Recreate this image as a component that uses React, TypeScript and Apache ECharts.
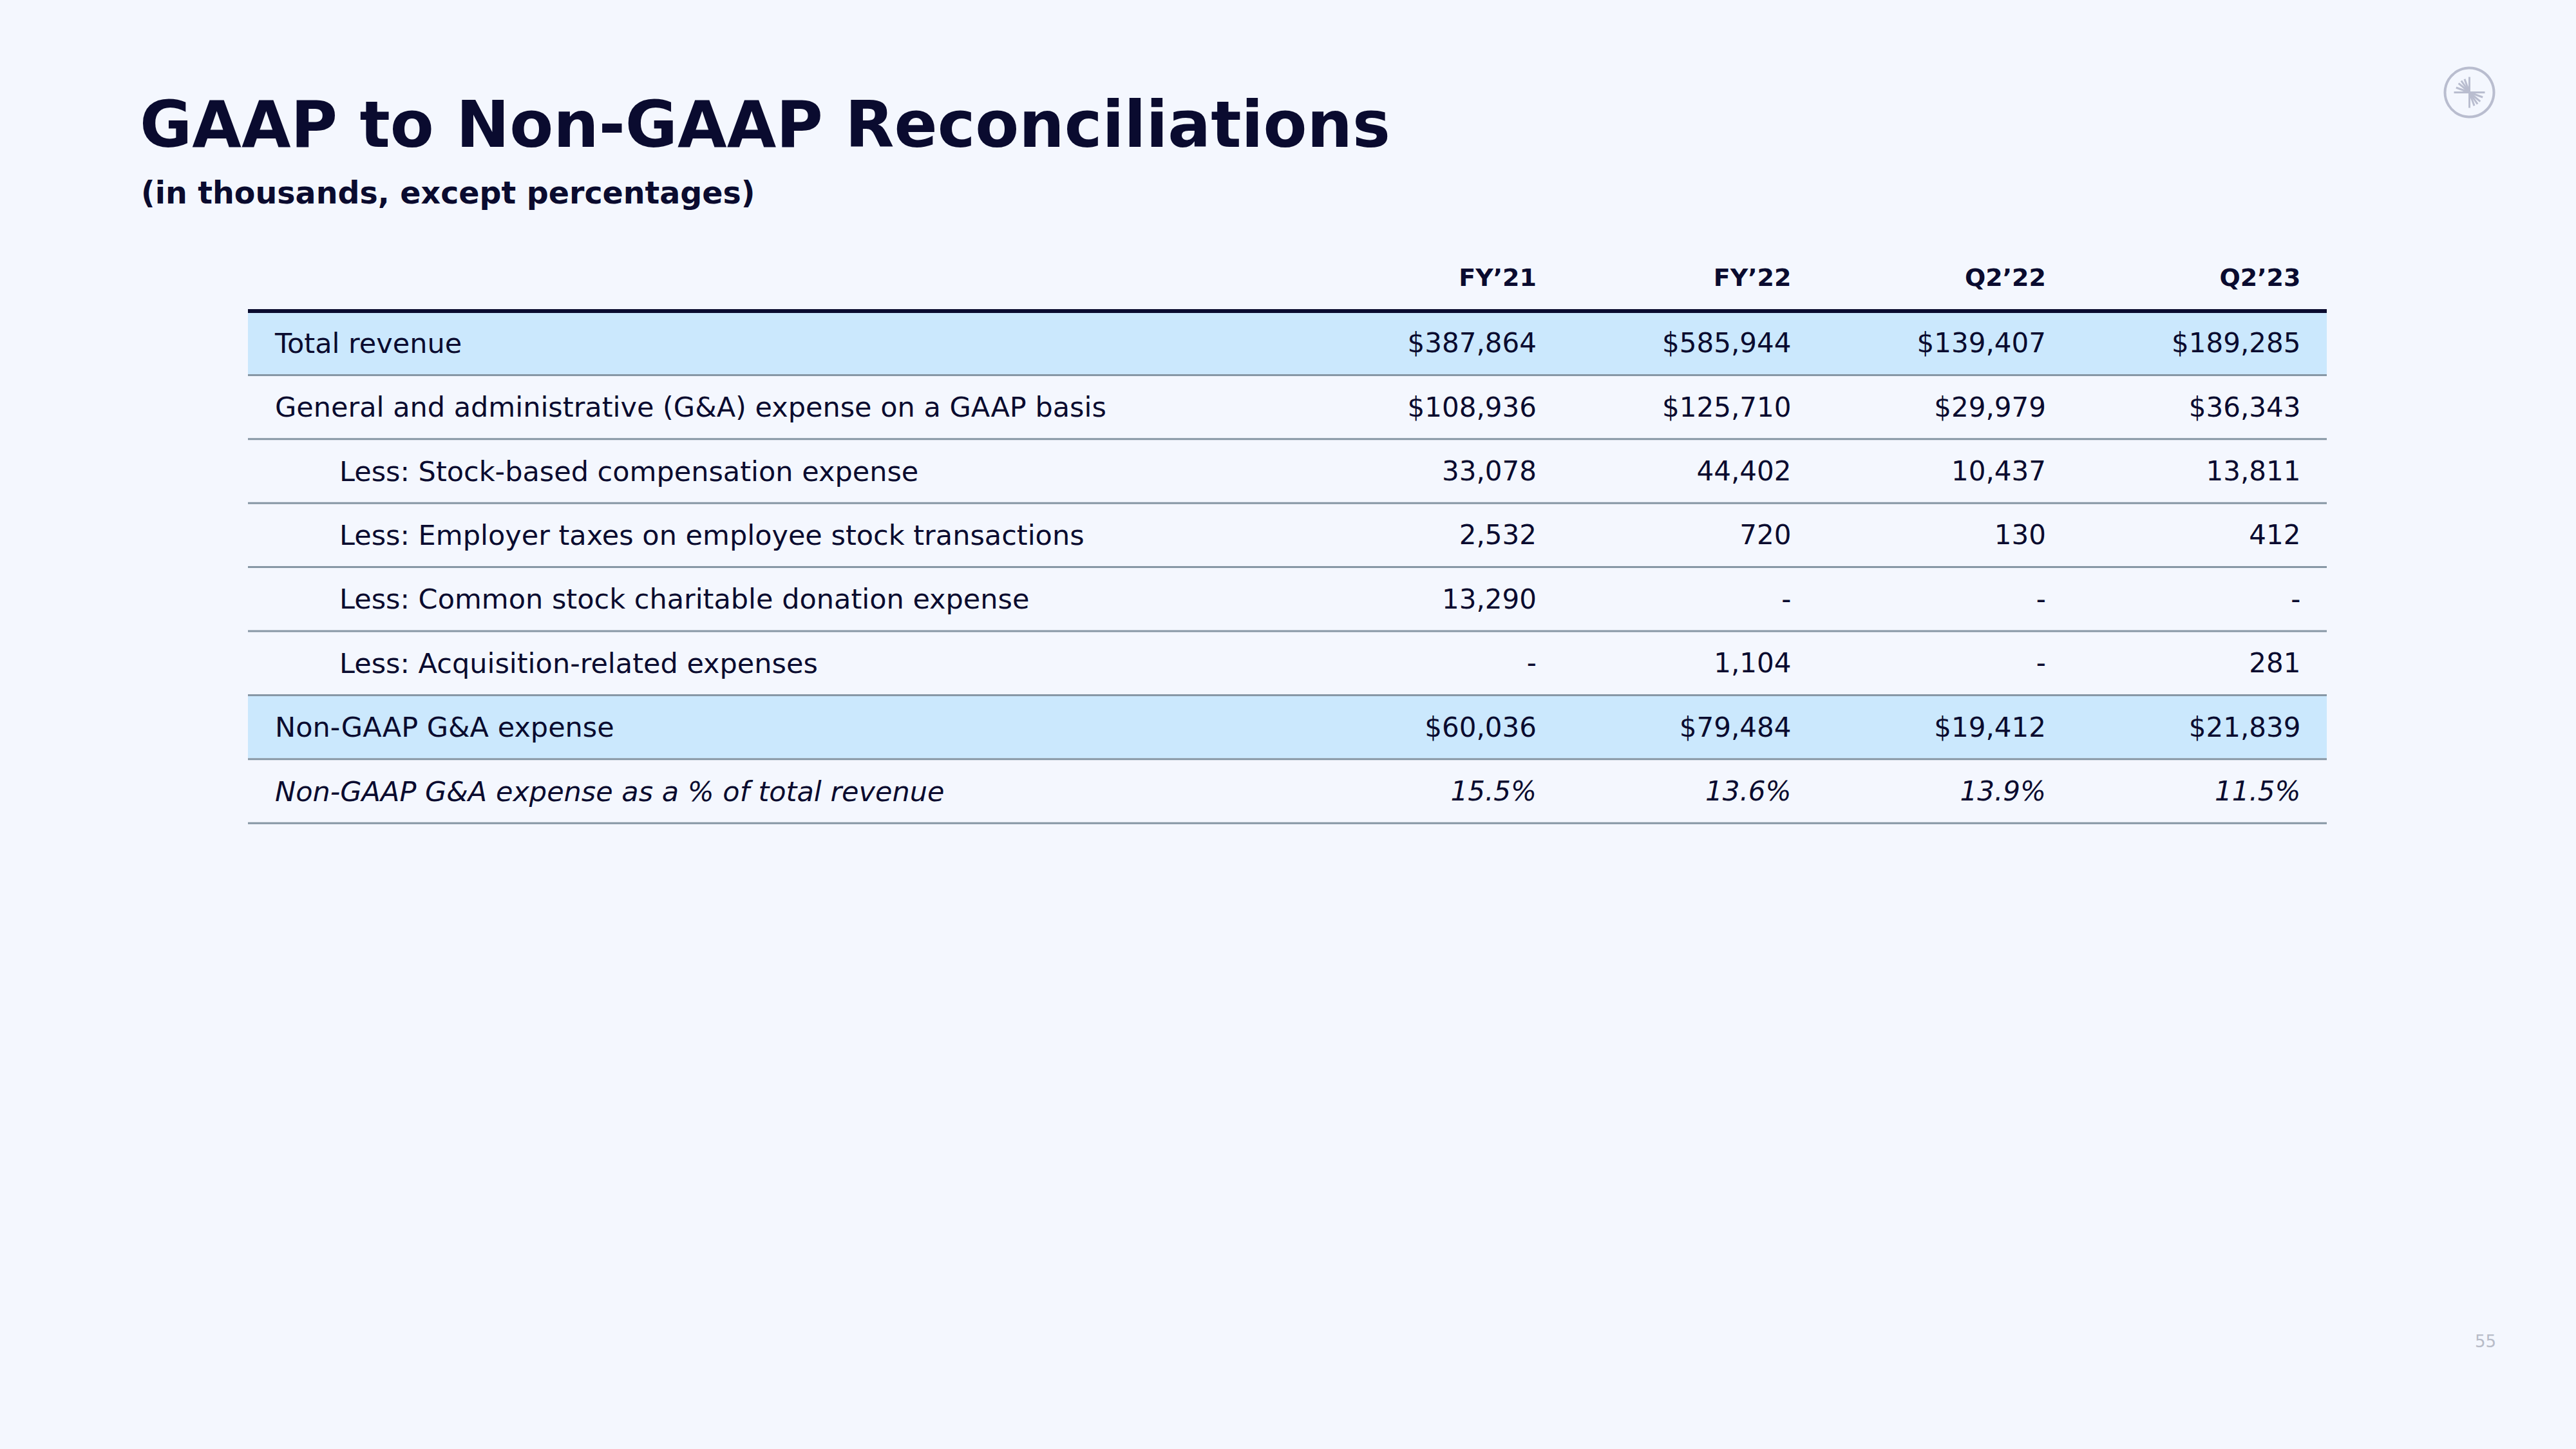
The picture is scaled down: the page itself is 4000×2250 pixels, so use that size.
import React, { useEffect, useRef } from "react";
import * as echarts from "echarts";

const title = "GAAP to Non-GAAP Reconciliations";
const subtitle = "(in thousands, except percentages)";
const pageNumber = "55";
const columns = ["FY’21", "FY’22", "Q2’22", "Q2’23"];
const rowLabels = [
  "Total revenue",
  "General and administrative (G&A) expense on a GAAP basis",
  "Less: Stock-based compensation expense",
  "Less: Employer taxes on employee stock transactions",
  "Less: Common stock charitable donation expense",
  "Less: Acquisition-related expenses",
  "Non-GAAP G&A expense",
  "Non-GAAP G&A expense as a % of total revenue",
];
const rowIndent = [0, 0, 1, 1, 1, 1, 0, 0];
const rowHighlight = [1, 0, 0, 0, 0, 0, 1, 0];
const rowItalic = [0, 0, 0, 0, 0, 0, 0, 1];
const fy21 = ["$387,864", "$108,936", "33,078", "2,532", "13,290", "-", "$60,036", "15.5%"];
const fy22 = ["$585,944", "$125,710", "44,402", "720", "-", "1,104", "$79,484", "13.6%"];
const q222 = ["$139,407", "$29,979", "10,437", "130", "-", "-", "$19,412", "13.9%"];
const q223 = ["$189,285", "$36,343", "13,811", "412", "-", "281", "$21,839", "11.5%"];
const valueColumns = [fy21, fy22, q222, q223];

// layout
const FONT = "'DejaVu Sans', 'Noto Sans', sans-serif";
const NAVY = "#0a0b2f";
const BG = "#f4f7fe";
const HIGHLIGHT = "#cbe8fd";
const RULE = "#8797a5";
const TABLE_LEFT = 385;
const TABLE_RIGHT = 3613;
const TABLE_TOP = 483;
const ROW_H = 99.4;
const TABLE_W = TABLE_RIGHT - TABLE_LEFT;
const COL_RIGHT = [2001, 2396.5, 2792, 3187.5];
const LABEL_X = [42, 142];

export default function App() {
  const ref = useRef<HTMLDivElement>(null);
  useEffect(() => {
    if (!ref.current) return;
    const chart = echarts.init(ref.current, null, { renderer: "svg" });

    const rays = [90, 110, 125, 140, 160, 180, 270, 290, 305, 320, 340, 0];
    const cx = 3834.5;
    const cy = 143.5;
    const logo: any[] = [
      {
        type: "circle",
        shape: { cx, cy, r: 38 },
        style: { fill: "none", stroke: "#b9bdcf", lineWidth: 4 },
      },
      ...rays.map((a) => {
        const rad = (a * Math.PI) / 180;
        const len = a % 90 === 0 ? 24 : 22;
        return {
          type: "line",
          shape: { x1: cx, y1: cy, x2: cx + Math.cos(rad) * len, y2: cy - Math.sin(rad) * len },
          style: { stroke: "#b9bdcf", lineWidth: 3 },
        };
      }),
    ];

    const option: any = {
      animation: false,
      backgroundColor: BG,
      grid: { left: TABLE_LEFT, top: TABLE_TOP, width: TABLE_W, height: ROW_H * rowLabels.length },
      xAxis: { type: "value", min: 0, max: TABLE_W, show: false },
      yAxis: { type: "category", data: rowLabels, inverse: true, show: false },
      graphic: [
        {
          type: "text",
          left: 217,
          top: 144,
          style: { text: title, font: `bold 99px ${FONT}`, fill: NAVY },
        },
        {
          type: "text",
          left: 219,
          top: 275,
          style: { text: subtitle, font: `bold 47.5px ${FONT}`, fill: NAVY },
        },
        {
          type: "text",
          right: 4000 - 3876,
          top: 2070,
          style: { text: pageNumber, font: `26px ${FONT}`, fill: "#b8bcc8" },
        },
        ...logo,
      ],
      series: [
        {
          type: "custom",
          coordinateSystem: "cartesian2d",
          encode: { x: 0, y: 1 },
          data: rowLabels.map((_, i) => [0, i]),
          renderItem: (params: any, api: any) => {
            const i = api.value(1);
            const c = api.coord([0, i]);
            const h = api.size([0, 1])[1];
            const left = c[0];
            const right = api.coord([TABLE_W, i])[0];
            const top = c[1] - h / 2;
            const bottom = c[1] + h / 2;
            const italic = rowItalic[i] ? "italic " : "";
            const children: any[] = [];
            if (rowHighlight[i]) {
              children.push({
                type: "rect",
                shape: { x: left, y: top + 1.5, width: right - left, height: h - 3 },
                style: { fill: HIGHLIGHT },
              });
            }
            children.push({
              type: "line",
              shape: { x1: left, y1: bottom, x2: right, y2: bottom },
              style: { stroke: RULE, lineWidth: 3 },
            });
            if (i === 0) {
              children.push({
                type: "line",
                shape: { x1: left, y1: top, x2: right, y2: top },
                style: { stroke: NAVY, lineWidth: 6 },
              });
              columns.forEach((col, k) => {
                children.push({
                  type: "text",
                  x: api.coord([COL_RIGHT[k], i])[0],
                  y: top - 52,
                  style: {
                    text: col,
                    font: `bold 38px ${FONT}`,
                    fill: NAVY,
                    align: "right",
                    verticalAlign: "middle",
                  },
                });
              });
            }
            children.push({
              type: "text",
              x: api.coord([LABEL_X[rowIndent[i]], i])[0],
              y: c[1],
              style: {
                text: rowLabels[i],
                font: `${italic}43px ${FONT}`,
                fill: NAVY,
                align: "left",
                verticalAlign: "middle",
              },
            });
            valueColumns.forEach((vals, k) => {
              children.push({
                type: "text",
                x: api.coord([COL_RIGHT[k], i])[0],
                y: c[1],
                style: {
                  text: vals[i],
                  font: `${italic}42px ${FONT}`,
                  fill: NAVY,
                  align: "right",
                  verticalAlign: "middle",
                },
              });
            });
            return { type: "group", children };
          },
        },
      ],
    };
    chart.setOption(option);
    return () => chart.dispose();
  }, []);
  return (
    <div
      ref={ref}
      style={{ position: "fixed", left: 0, top: 0, width: 4000, height: 2250 }}
    />
  );
}
